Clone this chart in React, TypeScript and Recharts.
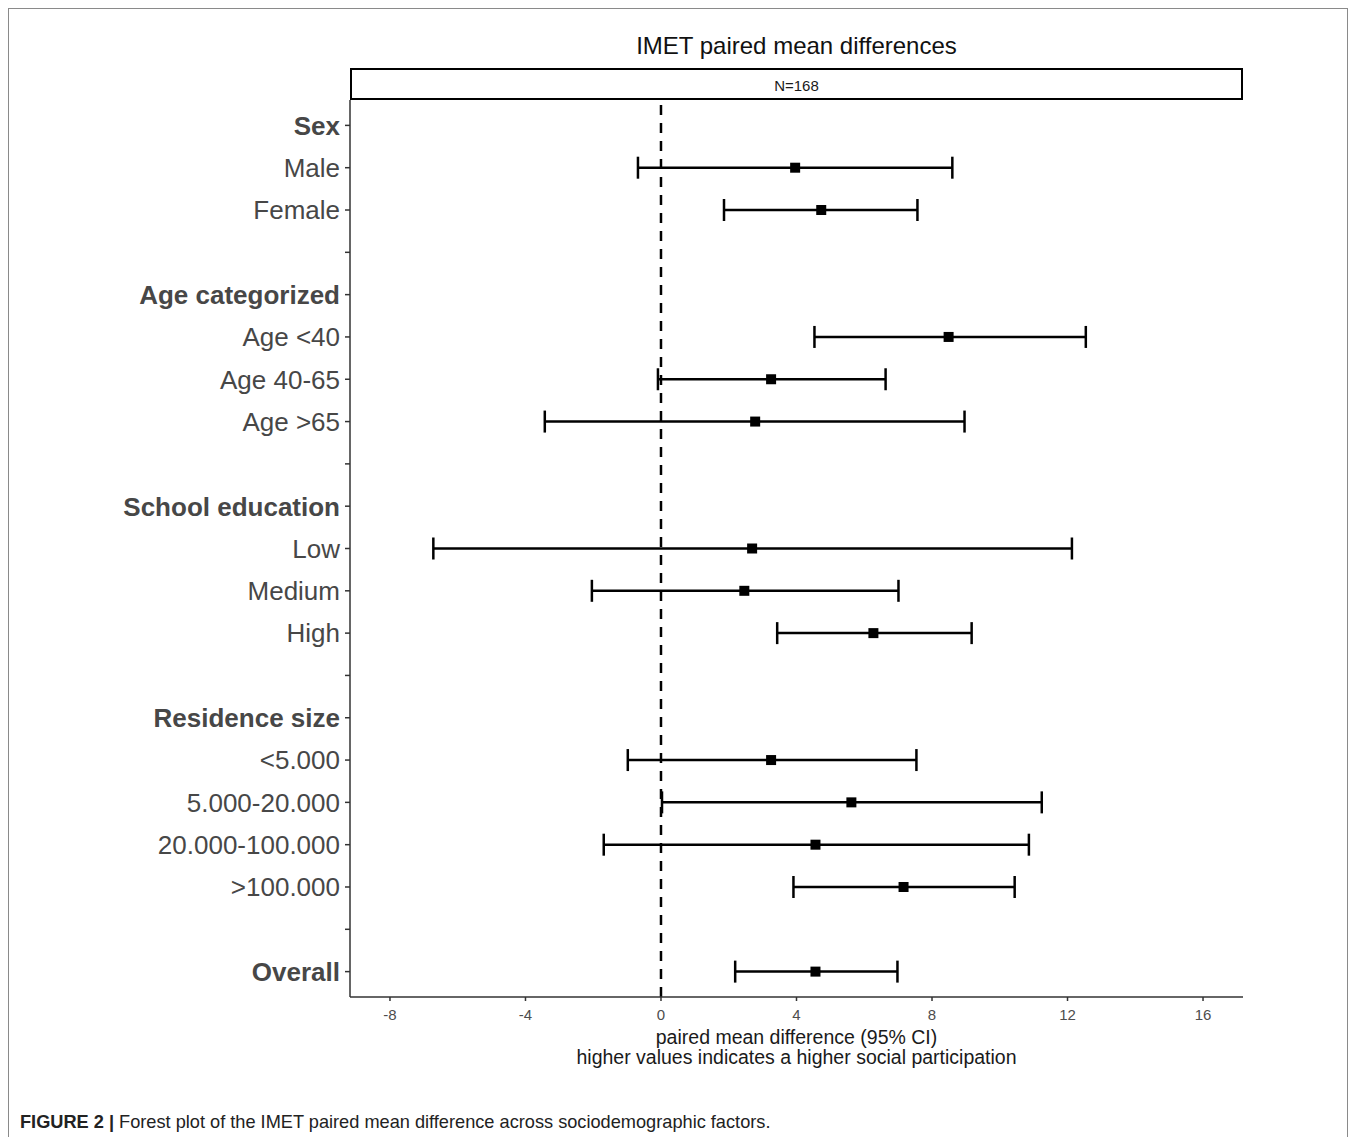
import React from 'react';
import { ScatterChart, Scatter, XAxis, YAxis, ErrorBar, ReferenceLine } from 'recharts';

const rowLabels = [
  'Sex', 'Male', 'Female', '',
  'Age categorized', 'Age <40', 'Age 40-65', 'Age >65', '',
  'School education', 'Low', 'Medium', 'High', '',
  'Residence size', '<5.000', '5.000-20.000', '20.000-100.000', '>100.000', '',
  'Overall',
];
const rowHeader = [
  true, false, false, false,
  true, false, false, false, false,
  true, false, false, false, false,
  true, false, false, false, false, false,
  true,
];
const means: (number | null)[] = [
  null, 3.96, 4.73, null,
  null, 8.49, 3.25, 2.78, null,
  null, 2.69, 2.46, 6.27, null,
  null, 3.25, 5.62, 4.56, 7.16, null,
  4.56,
];
const lowers: (number | null)[] = [
  null, -0.68, 1.86, null,
  null, 4.53, -0.09, -3.43, null,
  null, -6.72, -2.04, 3.43, null,
  null, -0.98, 0.03, -1.69, 3.91, null,
  2.19,
];
const uppers: (number | null)[] = [
  null, 8.6, 7.57, null,
  null, 12.54, 6.63, 8.96, null,
  null, 12.13, 7.01, 9.17, null,
  null, 7.54, 11.24, 10.86, 10.44, null,
  6.98,
];
const xTicks = [-8, -4, 0, 4, 8, 12, 16];
const xDomain = [-9.18, 17.18];

const FONT = '"Liberation Sans", Arial, Helvetica, sans-serif';

const data = rowLabels
  .map((_, i) => i)
  .filter((i) => means[i] !== null)
  .map((i) => ({
    row: i,
    mean: means[i] as number,
    err: [(means[i] as number) - (lowers[i] as number), (uppers[i] as number) - (means[i] as number)],
  }));

const YTick = (props: any) => {
  const { x, y, payload } = props;
  const i = payload.value as number;
  return (
    <text
      x={x}
      y={y}
      dy="0.36em"
      textAnchor="end"
      fontSize={26}
      fontFamily={FONT}
      fontWeight={rowHeader[i] ? 'bold' : 'normal'}
      fill="#474747"
    >
      {rowLabels[i]}
    </text>
  );
};

const SquarePoint = (props: any) => {
  const { cx, cy } = props;
  if (cx == null || cy == null) return null;
  return <rect x={cx - 5} y={cy - 5} width={10} height={10} fill="#000" />;
};

export default function App() {
  return (
    <div style={{ position: 'relative', width: 1340, height: 1129, fontFamily: FONT, background: '#fff' }}>
      <style>{'html,body{overflow:hidden;}'}</style>
      <div
        style={{
          position: 'absolute',
          left: 0,
          top: 0,
          width: 1340,
          height: 1129,
          boxSizing: 'border-box',
          border: '1.5px solid #8a8a8a',
          borderBottom: 'none',
          pointerEvents: 'none',
        }}
      />
      <div
        style={{
          position: 'absolute',
          left: 342,
          top: 24,
          width: 893,
          textAlign: 'center',
          fontSize: 24,
          lineHeight: '28px',
          color: '#111',
        }}
      >
        IMET paired mean differences
      </div>
      <div
        style={{
          position: 'absolute',
          left: 342,
          top: 60,
          width: 893,
          height: 32,
          boxSizing: 'border-box',
          border: '2px solid #000',
          textAlign: 'center',
          fontSize: 15,
          lineHeight: '31px',
          color: '#1a1a1a',
        }}
      >
        N=168
      </div>
      <div style={{ position: 'absolute', left: 0, top: 0 }}>
        <ScatterChart width={1340} height={1129} margin={{ top: 92, right: 105, bottom: 100, left: 12 }}>
          <XAxis
            type="number"
            dataKey="mean"
            domain={xDomain}
            ticks={xTicks}
            allowDataOverflow
            height={40}
            tickSize={4}
            tickMargin={8}
            stroke="#333"
            strokeWidth={1.5}
            tick={{ fontSize: 15, fill: '#4d4d4d', fontFamily: FONT }}
          />
          <YAxis
            type="number"
            dataKey="row"
            domain={[-0.6, 20.6]}
            ticks={rowLabels.map((_, i) => i)}
            interval={0}
            reversed
            allowDataOverflow
            width={330}
            tickSize={5}
            tickMargin={5}
            stroke="#333"
            strokeWidth={1.5}
            tick={<YTick />}
          />
          <ReferenceLine x={0} stroke="#000" strokeWidth={2.5} strokeDasharray="10 8" />
          <Scatter data={data} isAnimationActive={false} shape={<SquarePoint />}>
            <ErrorBar dataKey="err" direction="x" width={11} stroke="#000" strokeWidth={2.5} />
          </Scatter>
        </ScatterChart>
      </div>
      <div
        style={{
          position: 'absolute',
          left: 342,
          top: 1019,
          width: 893,
          textAlign: 'center',
          fontSize: 19.5,
          lineHeight: '20px',
          color: '#1a1a1a',
        }}
      >
        paired mean difference (95% CI)
        <br />
        higher values indicates a higher social participation
      </div>
      <div
        style={{
          position: 'absolute',
          left: 12,
          top: 1103,
          fontSize: 18.2,
          lineHeight: '22px',
          color: '#222',
          fontFamily: '"Liberation Sans Narrow", "Arial Narrow", "Liberation Sans", Arial, sans-serif',
          whiteSpace: 'nowrap',
        }}
      >
        <span style={{ fontWeight: 'bold' }}>FIGURE 2 |</span> Forest plot of the IMET paired mean difference across
        sociodemographic factors.
      </div>
    </div>
  );
}
